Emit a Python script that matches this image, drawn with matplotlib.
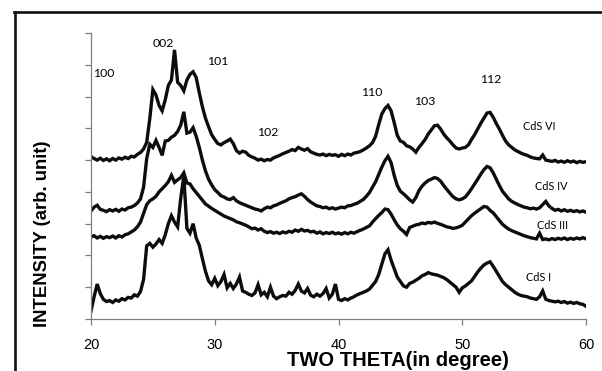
import numpy as np
import matplotlib
matplotlib.use("Agg")
import matplotlib.pyplot as plt

# 2-theta grid (degrees), 0.25 deg step
two_theta = np.arange(20.0, 60.001, 0.25)

cds_vi = [
    511, 505, 500, 506, 499, 504, 498, 505, 500, 507, 503, 509, 505, 512, 510, 518,
    524, 535, 556, 630, 722, 705, 672, 655, 690, 735, 752, 847, 745, 735, 718, 752,
    770, 778, 760, 712, 668, 632, 605, 580, 565, 552, 548, 555, 560, 566, 552, 530,
    522, 528, 525, 515, 510, 506, 500, 503, 498, 502, 500, 507, 511, 515, 520, 524,
    528, 533, 530, 540, 535, 531, 536, 526, 522, 518, 516, 519, 514, 518, 515, 517,
    512, 518, 514, 519, 516, 522, 524, 527, 532, 538, 545, 555, 575, 612, 645, 662,
    672, 655, 618, 578, 560, 556, 545, 542, 535, 525, 540, 552, 565, 582, 595, 608,
    610, 598, 582, 570, 560, 548, 538, 535, 538, 540, 548, 565, 580, 598, 616, 632,
    648, 650, 635, 615, 598, 578, 560, 548, 540, 532, 527, 522, 518, 515, 510, 507,
    505, 504, 516, 500, 498, 496, 499, 494, 497, 493, 498, 494, 497, 492, 496, 493,
    495,
]

cds_iv = [
    340, 352, 358, 345, 342, 338, 344, 340, 345, 339, 346, 343, 350, 352, 357, 365,
    378, 415, 505, 550, 540, 562, 540, 515, 560, 562, 572, 578, 590, 610, 652, 585,
    588, 602, 575, 540, 500, 466, 440, 422, 407, 398, 388, 384, 378, 376, 382, 372,
    366, 362, 358, 354, 350, 346, 344, 340, 347, 352, 350, 356, 359, 364, 368, 372,
    378, 382, 385, 390, 394, 386, 376, 368, 362, 356, 354, 350, 352, 347, 350, 346,
    349, 352, 350, 356, 357, 361, 364, 370, 376, 386, 398, 415, 432, 455, 478, 498,
    512, 492, 452, 420, 402, 394, 385, 375, 368, 382, 404, 418, 428, 436, 440, 445,
    442, 434, 420, 408, 396, 385, 378, 375, 378, 384, 396, 410, 425, 440, 456, 470,
    480, 476, 460, 440, 420, 402, 390, 378, 370, 365, 360, 356, 352, 350, 347, 349,
    346, 350, 360, 370, 356, 348, 342, 345, 340, 344, 339, 342, 338, 341, 337, 340,
    336,
]

cds_iii = [
    258, 262, 255, 260, 254, 259, 256, 261, 255, 262, 258, 265, 268, 274, 280, 290,
    305, 332, 360, 372, 378, 386, 400, 410, 420, 432, 452, 430, 438, 445, 460, 428,
    425, 410, 398, 386, 374, 362, 355, 348, 342, 336, 330, 324, 320, 316, 312, 306,
    303, 299, 295, 290, 284, 286, 280, 284, 276, 272, 275, 270, 273, 269, 274, 271,
    276, 273, 280, 276, 282, 277, 279, 274, 276, 270, 274, 268, 272, 269, 273, 268,
    271, 267, 272, 268, 273, 270, 275, 279, 283, 288, 293, 305, 316, 326, 335, 346,
    344, 330, 312, 296, 284, 276, 266, 288, 292, 296, 298, 302, 300, 304, 302, 305,
    301, 298, 294, 290, 288, 285, 287, 290, 295, 305, 315, 325, 333, 340, 347, 354,
    352, 342, 334, 322, 310, 298, 290, 283, 278, 274, 270, 266, 262, 259, 256, 254,
    252, 270, 250, 252, 249, 253, 250, 254, 251, 255, 250, 254, 251, 255, 252, 256,
    252,
]

cds_i = [
    25, 70, 110, 80, 62, 55, 58, 52, 60, 56, 64, 60, 68, 66, 76, 72,
    86, 125, 230, 238, 226, 236, 250, 238, 265, 300, 325, 305, 290, 380, 450, 285,
    270, 300, 255, 232, 190, 150, 120, 108, 128, 105, 118, 140, 98, 112, 96, 110,
    132, 88, 84, 78, 74, 82, 108, 76, 84, 70, 100, 72, 64, 70, 74, 72,
    84, 78, 90, 110, 88, 82, 96, 75, 70, 78, 72, 80, 96, 66, 78, 110,
    62, 58, 64, 60, 66, 70, 76, 80, 84, 88, 94, 106, 118, 140, 172, 205,
    218, 185, 158, 132, 118, 104, 100, 112, 116, 122, 128, 136, 140, 146, 142, 140,
    138, 134, 130, 124, 116, 108, 100, 84, 98, 104, 112, 120, 134, 148, 160, 170,
    176, 180, 166, 150, 134, 118, 108, 100, 92, 84, 78, 74, 72, 70, 66, 64,
    62, 70, 88, 62, 58, 56, 54, 56, 52, 55, 50, 53, 49, 52, 48, 46,
    40,
]

series = [cds_vi, cds_iv, cds_iii, cds_i]
sample_names = ["CdS VI", "CdS IV", "CdS III", "CdS I"]
sample_label_pos = [(56.2, 607), (57.2, 418), (57.3, 293), (56.2, 132)]

# Miller indices of the reflections and where their labels sit
hkl_labels = ["100", "002", "101", "102", "110", "103", "112"]
hkl_pos = [(21.05, 771), (25.82, 868), (30.26, 809), (34.3, 588),
           (42.7, 714), (47.0, 683), (52.3, 755)]

W, H = 602, 371
fig = plt.figure(figsize=(W / 100, H / 100), dpi=100)
ax = fig.add_axes([91 / W, 1 - 319 / H, (586 - 91) / W, (319 - 33) / H])

for vals in series:
    ax.plot(two_theta, vals, color="#0d0d0d", lw=2.4, solid_joinstyle="miter")

ax.set_xlim(20, 60)
ax.set_ylim(0, 900)
ax.set_xticks([20, 30, 40, 50, 60])
ax.set_yticks(np.arange(0, 901, 100))
ax.set_yticklabels([])

axis_grey = "#7f7f7f"
for side in ("top", "right"):
    ax.spines[side].set_visible(False)
for side in ("left", "bottom"):
    ax.spines[side].set_color(axis_grey)
    ax.spines[side].set_linewidth(0.9)
ax.tick_params(axis="both", direction="out", length=4, width=0.9, color=axis_grey)
ax.tick_params(axis="x", pad=9.5, labelsize=10.5)
for lab in ax.get_xticklabels():
    lab.set_family("Liberation Sans")

for txt, (x, y) in zip(hkl_labels, hkl_pos):
    ax.text(x, y, txt, ha="center", va="center", fontsize=8.8, family="Lato")
for txt, (x, y) in zip(sample_names, sample_label_pos):
    ax.text(x, y, txt, ha="center", va="center", fontsize=7.8, family="Lato")

fig.text(398 / W, 1 - 361 / H, "TWO THETA(in degree)", ha="center", va="center",
         fontsize=14.5, fontweight="bold", family="Liberation Sans")
fig.text(43 / W, 1 - 234 / H, "INTENSITY (arb. unit)", ha="center", va="center",
         rotation=90, fontsize=13.3, fontweight="bold", family="Liberation Sans")

# outer frame (top and left edges)
fig.add_artist(plt.Line2D([14.7 / W, 14.7 / W], [0, 1 - 12.2 / H],
                          transform=fig.transFigure, color="#111111", lw=1.9))
fig.add_artist(plt.Line2D([13.8 / W, 1], [1 - 12.2 / H, 1 - 12.2 / H],
                          transform=fig.transFigure, color="#111111", lw=1.9))

fig.savefig("out.png", dpi=100)
